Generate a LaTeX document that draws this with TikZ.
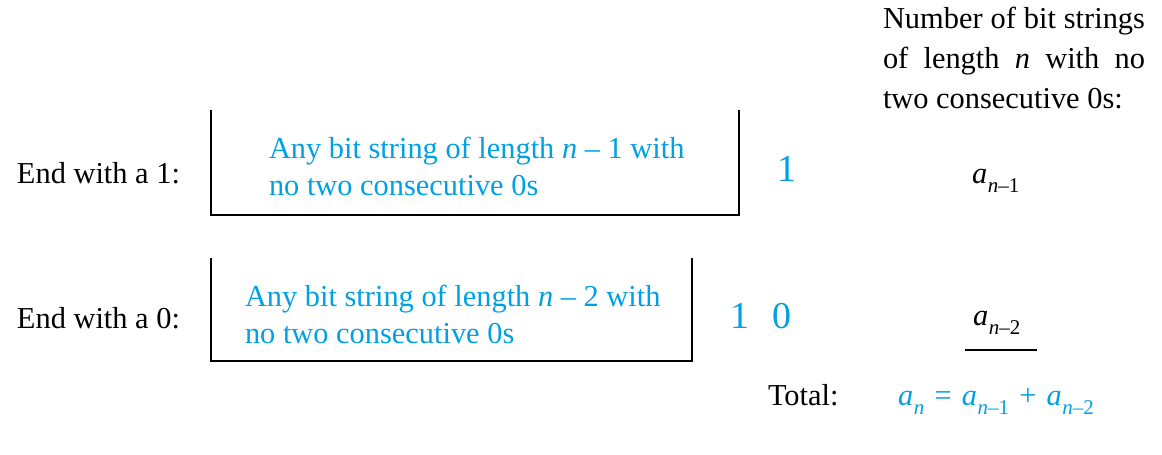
\documentclass[tikz,border=0pt]{standalone}
\usepackage{fontspec}
\setmainfont{Liberation Serif}
\definecolor{seqblue}{RGB}{0,160,227}
\newcommand{\asub}[1]{\textit{a}\kern0.3pt\raisebox{-4.5pt}{\fontsize{10.5}{11}\selectfont #1}}
\newcommand{\opsp}[1]{\kern1.3pt{} #1 \kern1.3pt{}}

\begin{document}
\begin{tikzpicture}[x=0.5pt,y=-0.5pt,line width=1pt,
 every node/.style={font=\fontsize{15.2}{18.5}\selectfont,inner sep=0pt,outer sep=0pt,anchor=base west},
 blu/.style={text=seqblue},
 bigdigit/.style={text=seqblue,font=\fontsize{19}{20}\selectfont}]
  \useasboundingbox (0,0) rectangle (1162,455);
  % column head
  \node[text width=131pt,align=justify,font=\fontsize{15.2}{20.2}\selectfont] (head) at (883,28)
    {\hyphenpenalty10000\relax Number of bit strings of length \textit{n} with no two consecutive 0s:};
  % first case
  \node (end1) at (17,183) {End with a 1:};
  \draw (211,110) |- (739,215) -- (739,110);
  \node[blu,align=left] (str1) at (269,195) {Any bit string of length \textit{n} – 1 with\\no two consecutive 0s};
  \node[bigdigit] (one1) at (777,181) {1};
  \node (a1) at (972,183) {\asub{\textit{n}–1}};
  % second case
  \node (end0) at (17,328) {End with a 0:};
  \draw (211,258) |- (692,361) -- (692,258);
  \node[blu,align=left] (str2) at (245,343) {Any bit string of length \textit{n} – 2 with\\no two consecutive 0s};
  \node[bigdigit] (one2) at (730,328) {1};
  \node[bigdigit] (zero2) at (772,328) {0};
  \node (a2) at (973,325) {\asub{\textit{n}–2}};
  \draw (965,350) -- (1037,350);
  % sum
  \node (tot) at (768,405) {Total:};
  \node[blu] (sum) at (898,405) {\asub{\textit{n}}\opsp{=}\asub{\textit{n}–1}\opsp{+}\asub{\textit{n}–2}};
\end{tikzpicture}
\end{document}
